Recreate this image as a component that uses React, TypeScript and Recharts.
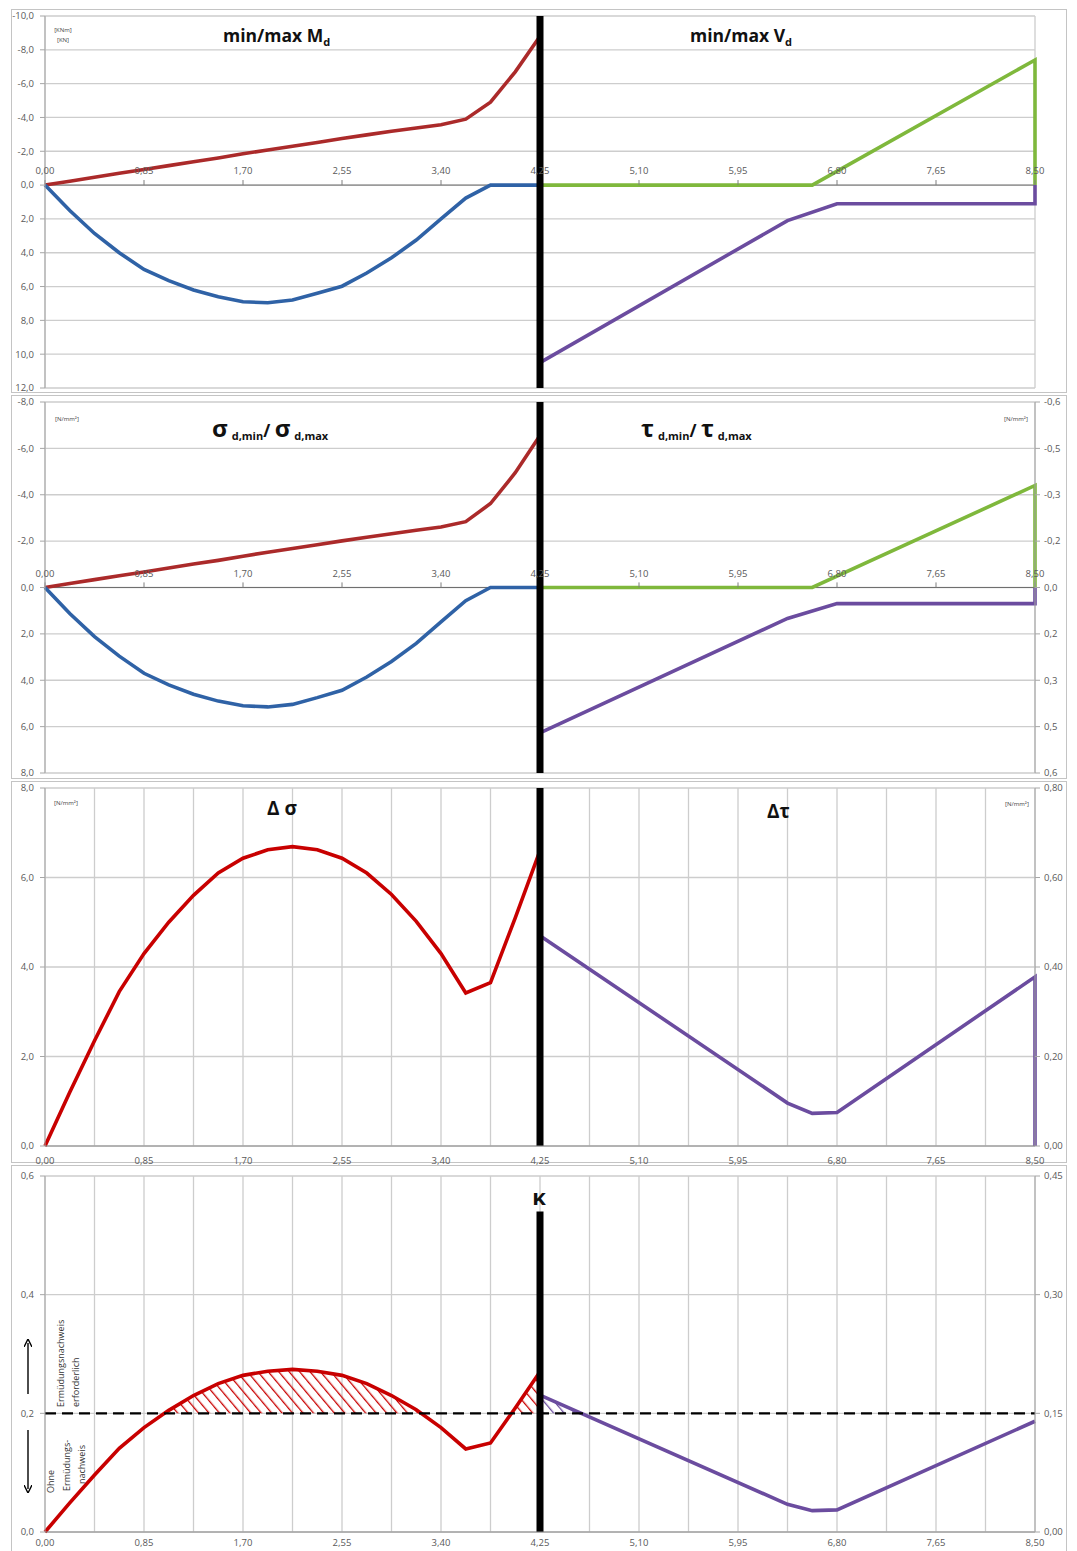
import React from "react";
import { ComposedChart, Line, Area, XAxis, YAxis, CartesianGrid, ReferenceLine, ReferenceDot } from "recharts";

// x positions (m) – calculation points along the beam
const xLeft = [0, 0.2125, 0.425, 0.6375, 0.85, 1.0625, 1.275, 1.4875, 1.7, 1.9125, 2.125, 2.3375, 2.55, 2.7625, 2.975, 3.1875, 3.4, 3.6125, 3.825, 4.0375, 4.25];
const gridX = [0, 0.425, 0.85, 1.275, 1.7, 2.125, 2.55, 2.975, 3.4, 3.825, 4.25, 4.675, 5.1, 5.525, 5.95, 6.375, 6.8, 7.225, 7.65, 8.075, 8.5];
const labelX = [0, 0.85, 1.7, 2.55, 3.4, 4.25, 5.1, 5.95, 6.8, 7.65, 8.5];

// panel 1: moments / shear forces
const mMin = [0, -0.23, -0.46, -0.7, -0.92, -1.15, -1.38, -1.6, -1.85, -2.08, -2.3, -2.52, -2.75, -2.97, -3.18, -3.38, -3.57, -3.9, -4.9, -6.7, -8.8];
const mMax = [0, 1.5, 2.86, 4.0, 4.99, 5.65, 6.2, 6.6, 6.9, 6.96, 6.8, 6.4, 5.98, 5.2, 4.3, 3.25, 2.0, 0.77, 0, 0, 0];
const vMaxX = [4.25, 6.375, 6.8, 8.5, 8.5];
const vMax = [10.5, 2.1, 1.1, 1.1, 0];
const vMinX = [4.25, 6.5875, 8.5, 8.5];
const vMin = [0, 0, -7.4, 0];

// panel 2: stresses
const sigmaMin = [0, -0.17, -0.34, -0.51, -0.67, -0.84, -1.01, -1.17, -1.35, -1.52, -1.68, -1.84, -2.01, -2.17, -2.32, -2.47, -2.61, -2.84, -3.62, -4.95, -6.55];
const sigmaMax = [0, 1.12, 2.12, 2.96, 3.7, 4.2, 4.6, 4.9, 5.1, 5.15, 5.04, 4.75, 4.43, 3.86, 3.19, 2.41, 1.48, 0.57, 0, 0, 0];
const tauMax = [0.47, 0.1, 0.052, 0.052, 0];
const tauMin = [0, 0, -0.33, 0];

// panel 3: stress ranges
const deltaSigma = [0, 1.2, 2.35, 3.45, 4.3, 5.0, 5.6, 6.1, 6.43, 6.62, 6.69, 6.62, 6.43, 6.1, 5.62, 5.02, 4.3, 3.42, 3.65, 5.1, 6.6];
const deltaTauX = [4.25, 6.375, 6.5875, 6.8, 8.5, 8.5];
const deltaTau = [0.47, 0.096, 0.073, 0.075, 0.378, 0];

// panel 4: kappa
const kappaSigma = [0, 0.049, 0.096, 0.141, 0.176, 0.205, 0.23, 0.25, 0.264, 0.271, 0.274, 0.271, 0.264, 0.25, 0.23, 0.206, 0.176, 0.14, 0.15, 0.209, 0.27];
const kappaTauX = [4.25, 6.375, 6.5875, 6.8, 8.5];
const kappaTau = [0.173, 0.035, 0.027, 0.028, 0.14];
const kappaLimit = 0.2;
const kappaLimitRight = 0.15;
const crossSigma = [1.04, 3.23, 4.01];
const crossTau = 4.6;

const pts = (xs: number[], ys: number[]) => xs.map((x, i) => ({ x, y: ys[i] }));

const hatchSigma = (from: number, to: number) => [
  { x: from, r: [kappaLimit, kappaLimit] },
  ...xLeft.map((x, i) => ({ x, r: [kappaLimit, kappaSigma[i]] })).filter((p) => p.x > from && p.x < to + 0.001),
  ...(to < 4.25 ? [{ x: to, r: [kappaLimit, kappaLimit] }] : []),
];
const hatchTau = [
  { x: kappaTauX[0], r: [kappaLimitRight, kappaTau[0]] },
  { x: crossTau, r: [kappaLimitRight, kappaLimitRight] },
];

const FONT = '"Open Sans", "Liberation Sans", sans-serif';
const RED1 = "#ab2a2a";
const RED2 = "#c80000";
const BLUE = "#2f62a6";
const GREEN = "#7fb83c";
const PURPLE = "#6b4c9f";
const GRID = "#cdcdcd";
const TICK = { fontSize: 9.5, fill: "#595959", fontFamily: FONT };

const round1 = (v: number) => (Math.sign(v) * Math.round(Math.abs(v) * 10 + 1e-9)) / 10;
const f1 = (v: number) => round1(v).toFixed(1).replace(".", ",");
const f2 = (v: number) => v.toFixed(2).replace(".", ",");

const line = (data: { x: number; y: number }[], color: string, axis: string, w = 3.6) => (
  <Line data={data} dataKey="y" yAxisId={axis} type="linear" stroke={color} strokeWidth={w} dot={false} isAnimationActive={false} />
);

const topXLabels = (axis: string, mark: number) =>
  labelX.map((v) => (
    <React.Fragment key={v}>
      <ReferenceLine yAxisId={axis} segment={[{ x: v, y: 0 }, { x: v, y: mark }]} stroke="#7f7f7f" strokeWidth={1} />
      <ReferenceDot yAxisId={axis} x={v} y={0} r={0} fill="none" stroke="none" label={{ value: f2(v), position: "top", offset: 11, ...TICK }} />
    </React.Fragment>
  ));

const hiddenX = <XAxis dataKey="x" type="number" domain={[0, 8.5]} ticks={gridX} tick={false} tickLine={false} axisLine={false} height={0} />;
const bottomX = (margin: number) => (
  <XAxis
    dataKey="x"
    type="number"
    domain={[0, 8.5]}
    ticks={gridX}
    tickFormatter={(v: number) => (labelX.includes(v) ? f2(v) : "")}
    tick={TICK}
    tickLine={false}
    axisLine={{ stroke: "#8c8c8c" }}
    height={18}
    tickMargin={margin}
  />
);

const leftY = (domain: number[], ticks: number[], reversed: boolean) => (
  <YAxis yAxisId="left" type="number" domain={domain} ticks={ticks} reversed={reversed} tickFormatter={f1} tick={TICK} width={45} tickSize={5} tickMargin={6} axisLine={{ stroke: "#a6a6a6" }} tickLine={{ stroke: "#a6a6a6" }} interval={0} />
);
const rightY = (domain: number[], ticks: number[], reversed: boolean, fmt: (v: number) => string) => (
  <YAxis yAxisId="right" orientation="right" type="number" domain={domain} ticks={ticks} reversed={reversed} tickFormatter={fmt} tick={TICK} width={42} tickSize={5} tickMargin={4} axisLine={{ stroke: "#a6a6a6" }} tickLine={{ stroke: "#a6a6a6" }} interval={0} />
);

const frame = (top: number, height: number) => (
  <div style={{ position: "absolute", left: 11, top, width: 1056, height, border: "1px solid #c4c4c4", boxSizing: "border-box" }} />
);

function Panel1() {
  return (
    <ComposedChart width={1077} height={400} margin={{ top: 16, right: 42, bottom: 12, left: 0 }}>
      <CartesianGrid yAxisId="left" stroke={GRID} strokeWidth={1.3} />
      {hiddenX}
      {leftY([-10, 12], [-10, -8, -6, -4, -2, 0, 2, 4, 6, 8, 10, 12], true)}
      <ReferenceLine yAxisId="left" y={0} stroke="#6f6f6f" strokeWidth={1} />
      {line(pts(xLeft, mMin), RED1, "left")}
      {line(pts(xLeft, mMax), BLUE, "left")}
      {line(pts(vMaxX, vMax), PURPLE, "left")}
      {line(pts(vMinX, vMin), GREEN, "left")}
      {topXLabels("left", -0.3)}
      <ReferenceLine yAxisId="left" x={4.25} stroke="#000" strokeWidth={7} />
    </ComposedChart>
  );
}

function Panel2() {
  return (
    <ComposedChart width={1077} height={391} margin={{ top: 7, right: 0, bottom: 13, left: 0 }}>
      <CartesianGrid yAxisId="left" stroke={GRID} strokeWidth={1.3} />
      {hiddenX}
      {leftY([-8, 8], [-8, -6, -4, -2, 0, 2, 4, 6, 8], true)}
      {rightY([-0.6, 0.6], [-0.6, -0.45, -0.3, -0.15, 0, 0.15, 0.3, 0.45, 0.6], true, f1)}
      <ReferenceLine yAxisId="left" y={0} stroke="#6f6f6f" strokeWidth={1} />
      {line(pts(xLeft, sigmaMin), RED1, "left")}
      {line(pts(xLeft, sigmaMax), BLUE, "left")}
      {line(pts(vMaxX, tauMax), PURPLE, "right")}
      {line(pts(vMinX, tauMin), GREEN, "right")}
      {topXLabels("left", -0.22)}
      <ReferenceLine yAxisId="left" x={4.25} stroke="#000" strokeWidth={7} />
    </ComposedChart>
  );
}

function Panel3() {
  return (
    <ComposedChart width={1077} height={390} margin={{ top: 6, right: 0, bottom: 8, left: 0 }}>
      <CartesianGrid yAxisId="left" stroke={GRID} strokeWidth={1.3} />
      {bottomX(5)}
      {leftY([0, 8], [0, 2, 4, 6, 8], false)}
      {rightY([0, 0.8], [0, 0.2, 0.4, 0.6, 0.8], false, f2)}
      {line(pts(xLeft, deltaSigma), RED2, "left", 3.6)}
      {line(pts(deltaTauX, deltaTau), PURPLE, "right", 3.6)}
      <ReferenceLine yAxisId="left" x={4.25} stroke="#000" strokeWidth={7} />
    </ComposedChart>
  );
}

function Panel4() {
  return (
    <ComposedChart width={1077} height={386} margin={{ top: 11, right: 0, bottom: 1, left: 0 }}>
      <defs>
        <pattern id="hatchRed" patternUnits="userSpaceOnUse" width="8" height="8" patternTransform="rotate(-40)">
          <line x1="0" y1="0" x2="0" y2="8" stroke={RED2} strokeWidth="2.6" />
        </pattern>
        <pattern id="hatchPurple" patternUnits="userSpaceOnUse" width="8" height="8" patternTransform="rotate(-40)">
          <line x1="0" y1="0" x2="0" y2="8" stroke={PURPLE} strokeWidth="2.6" />
        </pattern>
      </defs>
      <CartesianGrid yAxisId="left" stroke={GRID} strokeWidth={1.3} />
      {bottomX(1)}
      {leftY([0, 0.6], [0, 0.2, 0.4, 0.6], false)}
      {rightY([0, 0.45], [0, 0.15, 0.3, 0.45], false, f2)}
      <Area data={hatchSigma(crossSigma[0], crossSigma[1])} dataKey="r" yAxisId="left" type="linear" stroke="none" fill="url(#hatchRed)" fillOpacity={1} isAnimationActive={false} />
      <Area data={hatchSigma(crossSigma[2], 4.25)} dataKey="r" yAxisId="left" type="linear" stroke="none" fill="url(#hatchRed)" fillOpacity={1} isAnimationActive={false} />
      <Area data={hatchTau} dataKey="r" yAxisId="right" type="linear" stroke="none" fill="url(#hatchPurple)" fillOpacity={1} isAnimationActive={false} />
      {line(pts(xLeft, kappaSigma), RED2, "left", 3.6)}
      {line(pts(kappaTauX, kappaTau), PURPLE, "right", 3.6)}
      <ReferenceLine yAxisId="left" y={kappaLimit} stroke="#000" strokeWidth={2.2} strokeDasharray="11 6" />
      <ReferenceLine yAxisId="left" segment={[{ x: 4.25, y: 0 }, { x: 4.25, y: 0.54 }]} stroke="#000" strokeWidth={7} />
    </ComposedChart>
  );
}

const titleStyle = { fontFamily: FONT, fontWeight: 700, fill: "#111" } as const;
const unitStyle = { fontFamily: FONT, fontSize: 6, fill: "#444" } as const;
const noteStyle = { fontFamily: FONT, fontSize: 9, fill: "#333" } as const;

function Overlay() {
  return (
    <svg width={1077} height={1551} style={{ position: "absolute", left: 0, top: 0, pointerEvents: "none" }}>
      <defs>
        <marker id="arrow" markerWidth="8" markerHeight="8" refX="4" refY="4" orient="auto" markerUnits="userSpaceOnUse">
          <path d="M0,0 L8,4 L0,8" fill="none" stroke="#000" strokeWidth="1.4" />
        </marker>
      </defs>
      {/* panel 1 */}
      <text x={223} y={42} fontSize={17.5} style={titleStyle}>
        min/max M<tspan fontSize={11} dy={4}>d</tspan>
      </text>
      <text x={690} y={42} fontSize={17.5} style={titleStyle}>
        min/max V<tspan fontSize={11} dy={4}>d</tspan>
      </text>
      <text x={63} y={32} textAnchor="middle" style={unitStyle}>[KNm]</text>
      <text x={63} y={42} textAnchor="middle" style={unitStyle}>[KN]</text>
      {/* panel 2 */}
      <text x={212} y={437} fontSize={24} style={titleStyle}>
        σ<tspan fontSize={11} dx={4} dy={3}>d,min</tspan>
        <tspan fontSize={17} dy={-3}>/ </tspan>
        <tspan fontSize={24}>σ</tspan>
        <tspan fontSize={11} dx={4} dy={3}>d,max</tspan>
      </text>
      <text x={641} y={437} fontSize={24} style={titleStyle}>
        τ<tspan fontSize={11} dx={4} dy={3}>d,min</tspan>
        <tspan fontSize={17} dy={-3}>/ </tspan>
        <tspan fontSize={24}>τ</tspan>
        <tspan fontSize={11} dx={4} dy={3}>d,max</tspan>
      </text>
      <text x={67} y={421} textAnchor="middle" style={unitStyle}>[N/mm²]</text>
      <text x={1016} y={421} textAnchor="middle" style={unitStyle}>[N/mm²]</text>
      {/* panel 3 */}
      <text x={267} y={815} fontSize={19} style={titleStyle}>Δ σ</text>
      <text x={767} y={818} fontSize={19} style={titleStyle}>Δτ</text>
      <text x={66} y={805} textAnchor="middle" style={unitStyle}>[N/mm²]</text>
      <text x={1017} y={806} textAnchor="middle" style={unitStyle}>[N/mm²]</text>
      {/* panel 4 */}
      <text x={539} y={1205} textAnchor="middle" fontSize={22} style={titleStyle}>κ</text>
      <line x1={28} y1={1394} x2={28} y2={1343} stroke="#000" strokeWidth={1.4} markerEnd="url(#arrow)" />
      <line x1={28} y1={1430} x2={28} y2={1489} stroke="#000" strokeWidth={1.4} markerEnd="url(#arrow)" />
      <text transform="translate(63.5,1407) rotate(-90)" style={noteStyle}>Ermüdungsnachweis</text>
      <text transform="translate(78.5,1407) rotate(-90)" style={noteStyle}>erforderlich</text>
      <text transform="translate(53.5,1493) rotate(-90)" style={noteStyle}>Ohne</text>
      <text transform="translate(69.5,1491) rotate(-90)" style={noteStyle}>Ermüdungs-</text>
      <text transform="translate(84.5,1484) rotate(-90)" style={noteStyle}>nachweis</text>
    </svg>
  );
}

export default function App() {
  return (
    <div style={{ position: "absolute", left: 0, top: 0, width: 1077, height: 1551, background: "#fff", overflow: "hidden" }}>
      {frame(9, 384)}
      {frame(395, 384)}
      {frame(781, 382)}
      {frame(1165, 390)}
      <div style={{ position: "absolute", left: 0, top: 0 }}>
        <Panel1 />
      </div>
      <div style={{ position: "absolute", left: 0, top: 395 }}>
        <Panel2 />
      </div>
      <div style={{ position: "absolute", left: 0, top: 782 }}>
        <Panel3 />
      </div>
      <div style={{ position: "absolute", left: 0, top: 1165 }}>
        <Panel4 />
      </div>
      <Overlay />
    </div>
  );
}
